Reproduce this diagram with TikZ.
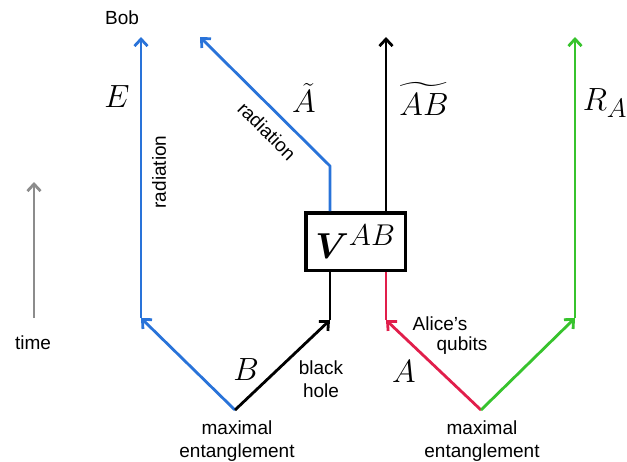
\documentclass[tikz,border=0pt]{standalone}
\usepackage{fontspec}
\usepackage{graphicx}
\usepackage{amsmath,bm}
\newfontfamily\lsans{Liberation Sans}
\usetikzlibrary{arrows.meta}
\definecolor{bblue}{RGB}{41,115,217}
\definecolor{rred}{RGB}{225,30,75}
\definecolor{ggreen}{RGB}{55,195,45}
\definecolor{ggray}{RGB}{140,140,140}
\newcommand{\mymlab}[1]{\scalebox{1.29}{$#1$}}
\begin{document}
\begin{tikzpicture}[x=1pt,y=-1pt,
  txt/.style={font=\lsans\fontsize{19}{22.5}\selectfont, inner sep=0pt, align=center},
  mlbl/.style={font=\fontsize{24.88}{25}\selectfont, inner sep=0pt},
  wire/.style={line width=2.8pt, line join=round},
  arr/.style={wire,-{Straight Barb[length=7pt,width=13pt]}},
]
\useasboundingbox (0,0) rectangle (627,461);
% coordinates
\coordinate (m1) at (235,410);
\coordinate (m2) at (481,410);
\coordinate (bl) at (141,318);
\coordinate (bob) at (141,37);
\coordinate (bh) at (330,320);
\coordinate (al) at (386,320);
\coordinate (gr) at (575,318);
\coordinate (rtop) at (575,37);
\coordinate (abtop) at (386,37);
\coordinate (bend) at (330,166);
\coordinate (atop) at (200,37);
\coordinate (t0) at (34,318);
\coordinate (t1) at (34,182);
% box
\node[draw, line width=3.5pt, minimum width=99.5pt, minimum height=57.5pt, inner sep=0pt,
      font=\fontsize{24.88}{25}\selectfont] (V) at (355.5,241.5) {\scalebox{1.45}{$\bm{V}^{AB}$}};
% connectors
\draw[arr, bblue] (m1) -- (bl);
\draw[arr, bblue] (bl) -- (bob);
\draw[arr] (m1) -- (bh);
\draw[wire] (bh) -- (V.south -| bh);
\draw[arr, rred] (m2) -- (al);
\draw[wire, rred] (al) -- (V.south -| al);
\draw[arr, ggreen] (m2) -- (gr);
\draw[arr, ggreen] (gr) -- (rtop);
\draw[arr] (V.north -| abtop) -- (abtop);
\draw[arr, bblue] (V.north -| bend) -- (bend) -- (atop);
\draw[arr, ggray] (t0) -- (t1);
% text labels
\node[txt] (bobl) at (122,18) {Bob};
\node[txt, rotate=90] (rad1) at (159,172) {radiation};
\node[txt, rotate=-45] (rad2) at (267,131) {radiation};
\node[txt] (time) at (33,343) {time};
\node[txt] (me1) at (237,441) {maximal\\entanglement};
\node[txt] (me2) at (482,441) {maximal\\entanglement};
\node[txt] (bhl) at (321,379) {black\\hole};
\node[txt] (al1) at (440,324) {Alice’s};
\node[txt] (al2) at (462,346) {qubits};
% math labels
\node[mlbl] (lE) at (117,97) {\mymlab{E}};
\node[mlbl] (lAt) at (304,98) {\mymlab{\tilde{A}}};
\node[mlbl] (lABt) at (424,99) {\mymlab{\widetilde{AB}}};
\node[mlbl] (lR) at (605,103) {\mymlab{R_A}};
\node[mlbl] (lB) at (246,370) {\mymlab{B}};
\node[mlbl] (lA) at (404,372) {\mymlab{A}};
\end{tikzpicture}
\end{document}
